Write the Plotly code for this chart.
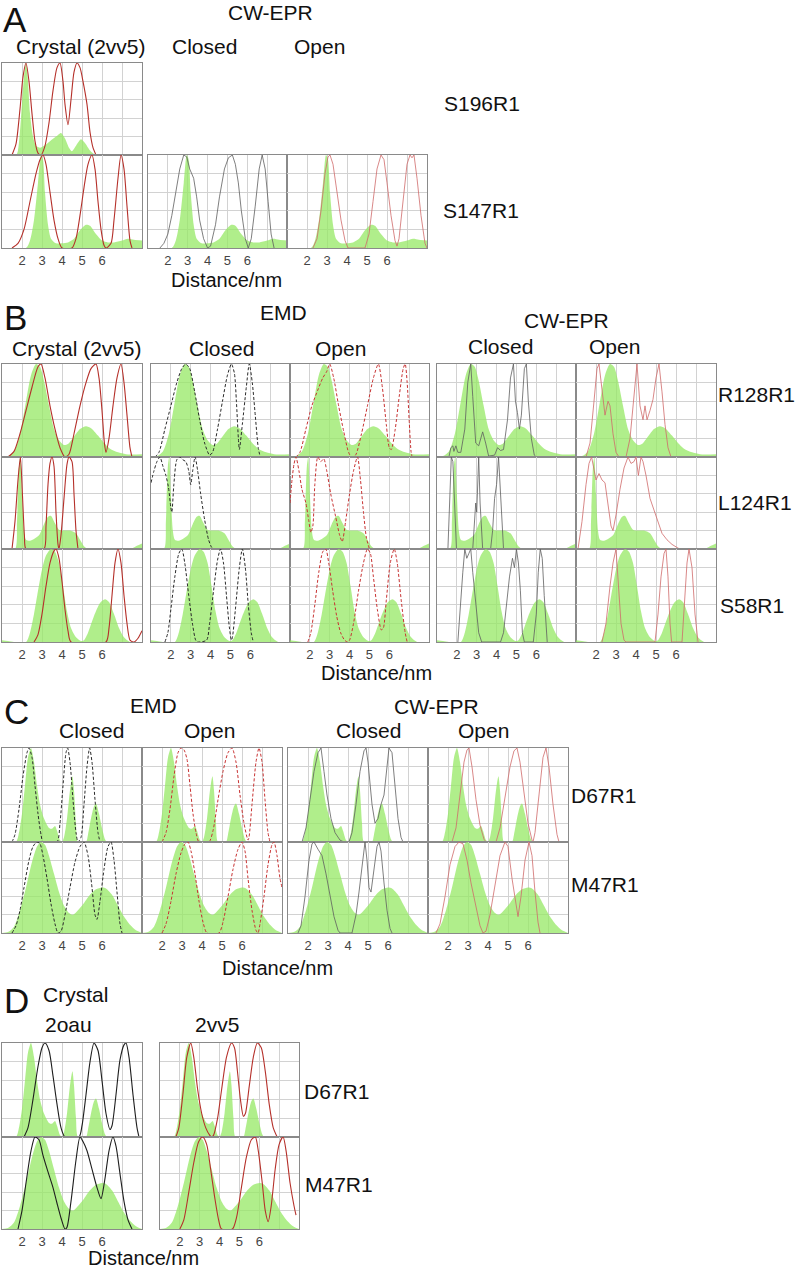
import plotly.graph_objects as go

W, H = 796, 1270

# ---------------- experimental distance distributions (green), (nm, amplitude) ----------------
EXP_S196R1 = [(1.0,0),(1.7,0),(1.8,0.05),(1.95,0.4),(2.1,0.85),(2.2,1.0),(2.3,0.8),(2.4,0.45),(2.55,0.2),
              (2.7,0.1),(2.9,0.08),(3.1,0.1),(3.4,0.15),(3.7,0.2),(3.95,0.24),(4.15,0.18),(4.35,0.08),
              (4.5,0.04),(4.7,0.1),(4.95,0.17),(5.15,0.13),(5.4,0.05),(5.7,0),(8.0,0)]
EXP_S147R1 = [(1.0,0),(2.2,0),(2.4,0.08),(2.6,0.3),(2.8,0.7),(2.95,1.0),(3.05,0.95),(3.15,0.6),(3.3,0.25),
              (3.45,0.1),(3.7,0.05),(4.0,0.05),(4.3,0.06),(4.6,0.1),(4.9,0.19),(5.2,0.25),(5.4,0.24),
              (5.7,0.15),(6.0,0.08),(6.3,0.06),(6.6,0.06),(7.0,0.08),(7.3,0.1),(7.6,0.09),(8.0,0.08)]
EXP_R128R1 = [(1.0,0),(1.3,0.01),(1.6,0.06),(1.9,0.25),(2.2,0.6),(2.45,0.88),(2.7,1.0),(2.9,0.97),(3.1,0.82),
              (3.35,0.55),(3.6,0.3),(3.85,0.18),(4.1,0.13),(4.3,0.14),(4.6,0.22),(4.9,0.3),(5.2,0.33),
              (5.45,0.31),(5.8,0.23),(6.1,0.15),(6.4,0.09),(6.8,0.05),(7.2,0.03),(8.0,0.03)]
EXP_L124R1 = [(1.0,0),(1.65,0),(1.75,0.3),(1.85,0.9),(1.92,1.0),(2.0,0.6),(2.1,0.2),(2.2,0.1),(2.4,0.09),
              (2.6,0.11),(2.85,0.15),(3.1,0.27),(3.3,0.35),(3.45,0.36),(3.65,0.28),(3.85,0.21),(4.1,0.2),
              (4.4,0.2),(4.7,0.17),(4.9,0.1),(5.1,0.03),(5.3,0),(7.4,0),(7.7,0.03),(8.0,0.06)]
EXP_S58R1 = [(1.0,0.02),(1.3,0.01),(1.6,0),(2.2,0),(2.4,0.1),(2.6,0.3),(2.8,0.55),(3.0,0.78),(3.2,0.93),
             (3.45,1.0),(3.65,0.97),(3.85,0.85),(4.05,0.6),(4.25,0.33),(4.45,0.15),(4.7,0.05),(4.95,0.01),
             (5.1,0.02),(5.3,0.1),(5.6,0.28),(5.9,0.42),(6.15,0.46),(6.35,0.43),(6.6,0.3),(6.85,0.15),
             (7.1,0.05),(7.4,0),(8.0,0)]
EXP_D67R1 = [(1.0,0),(1.7,0),(1.85,0.1),(2.0,0.3),(2.15,0.6),(2.3,0.9),(2.45,1.0),(2.6,0.85),(2.75,0.6),
             (2.9,0.4),(3.1,0.25),(3.35,0.15),(3.5,0.14),(3.65,0.17),(3.75,0.12),(3.9,0.02),(4.0,0),
             (4.1,0.05),(4.25,0.25),(4.4,0.55),(4.52,0.7),(4.6,0.55),(4.7,0.2),(4.8,0),(5.2,0),(5.3,0.08),
             (5.45,0.25),(5.6,0.38),(5.7,0.41),(5.85,0.3),(6.0,0.15),(6.15,0.03),(6.25,0),(8.0,0)]
EXP_M47R1 = [(1.0,0),(1.3,0.01),(1.6,0.07),(1.9,0.25),(2.2,0.5),(2.5,0.78),(2.75,0.95),(2.95,1.0),(3.15,0.97),
             (3.35,0.85),(3.6,0.65),(3.85,0.45),(4.1,0.3),(4.35,0.22),(4.55,0.2),(4.8,0.25),(5.1,0.33),
             (5.4,0.42),(5.7,0.48),(6.0,0.5),(6.2,0.49),(6.5,0.42),(6.8,0.3),(7.1,0.18),(7.4,0.09),
             (7.7,0.03),(8.0,0)]

# ---------------- simulated distributions, (nm, amplitude) ----------------
A_CRYS_S196R1 = [(1.5,0),(1.7,0.12),(1.9,0.5),(2.05,0.85),(2.2,1.0),(2.35,0.8),(2.5,0.45),(2.65,0.15),(2.8,0.02),
                 (2.95,0),(3.15,0.1),(3.35,0.35),(3.55,0.7),(3.75,0.95),(3.9,1.0),(4.05,0.8),(4.15,0.55),
                 (4.3,0.33),(4.45,0.6),(4.6,0.9),(4.75,1.0),(4.9,0.95),(5.05,0.8),(5.25,0.55),(5.4,0.25),
                 (5.55,0.08),(5.7,0)]
A_CRYS_S147R1 = [(1.5,0),(1.8,0.05),(2.1,0.2),(2.4,0.5),(2.7,0.8),(2.9,0.95),(3.05,1.0),(3.2,0.9),(3.4,0.6),
                 (3.6,0.3),(3.8,0.1),(4.0,0),(4.5,0),(4.7,0.1),(4.9,0.35),(5.1,0.65),(5.3,0.9),(5.5,1.0),
                 (5.65,0.85),(5.8,0.5),(5.95,0.2),(6.1,0.03),(6.2,0),(6.45,0.05),(6.6,0.3),(6.8,0.75),
                 (6.95,1.0),(7.1,0.85),(7.25,0.45),(7.4,0.08),(7.5,0)]
A_CWC_S147R1 = [(1.6,0),(1.8,0.05),(2.0,0.15),(2.2,0.35),(2.4,0.6),(2.6,0.85),(2.8,1.0),(2.95,0.98),(3.1,0.85),
                (3.3,0.75),(3.45,0.55),(3.6,0.3),(3.8,0.1),(4.0,0),(4.15,0.02),(4.4,0.25),(4.6,0.55),
                (4.85,0.85),(5.05,0.97),(5.25,1.0),(5.4,0.9),(5.55,0.7),(5.7,0.4),(5.9,0.1),(6.05,0),
                (6.2,0.1),(6.4,0.45),(6.6,0.85),(6.75,1.0),(6.9,0.85),(7.05,0.5),(7.2,0.15),(7.35,0)]
A_CWO_S147R1 = [(2.3,0),(2.5,0.1),(2.7,0.4),(2.9,0.8),(3.05,0.98),(3.15,1.0),(3.3,0.9),(3.5,0.6),(3.7,0.3),
                (3.9,0.08),(4.05,0),(4.9,0),(5.1,0.15),(5.3,0.5),(5.5,0.85),(5.7,1.0),(5.85,0.95),(6.0,0.7),
                (6.2,0.35),(6.4,0.08),(6.5,0.02),(6.6,0.1),(6.8,0.5),(7.0,0.9),(7.15,1.0),(7.25,0.97),
                (7.35,1.0),(7.5,0.75),(7.7,0.35),(7.9,0.05),(8.0,0)]

B_CRYS_R128R1 = [(1.3,0),(1.6,0.06),(1.9,0.25),(2.2,0.5),(2.5,0.75),(2.8,0.97),(2.95,1.0),(3.15,0.85),(3.4,0.55),
                 (3.65,0.3),(3.9,0.1),(4.15,0),(4.35,0.03),(4.6,0.25),(4.9,0.55),(5.2,0.8),(5.45,0.95),
                 (5.7,1.0),(5.85,0.85),(6.0,0.5),(6.12,0.15),(6.2,0.05),(6.35,0.2),(6.55,0.55),(6.75,0.85),
                 (6.95,1.0),(7.1,0.8),(7.25,0.45),(7.4,0.1),(7.5,0)]
B_EMDC_R128R1 = [(1.2,0),(1.4,0.05),(1.7,0.3),(2.0,0.55),(2.3,0.8),(2.55,0.95),(2.75,1.0),(2.95,0.95),(3.2,0.7),
                 (3.45,0.4),(3.7,0.15),(3.95,0.02),(4.1,0.05),(4.35,0.3),(4.6,0.6),(4.85,0.88),(5.05,1.0),
                 (5.2,0.9),(5.3,0.6),(5.4,0.2),(5.45,0.08),(5.6,0.35),(5.8,0.75),(5.95,1.0),(6.1,0.8),
                 (6.25,0.45),(6.4,0.1),(6.5,0)]
B_EMDO_R128R1 = [(1.3,0),(1.5,0.05),(1.8,0.3),(2.1,0.55),(2.4,0.72),(2.65,0.85),(2.85,0.92),(3.0,1.0),(3.2,0.85),
                 (3.45,0.55),(3.7,0.28),(3.95,0.05),(4.1,0),(4.3,0.02),(4.6,0.25),(4.9,0.55),(5.2,0.85),
                 (5.45,1.0),(5.65,0.75),(5.85,0.35),(6.0,0.1),(6.1,0.08),(6.3,0.3),(6.5,0.65),(6.7,0.95),
                 (6.8,1.0),(6.9,0.8),(7.0,0.4),(7.1,0.05),(7.15,0)]
B_CWC_R128R1 = [(1.6,0),(1.7,0.1),(1.8,0.12),(1.85,0.06),(1.95,0.12),(2.05,0.05),(2.2,0.05),(2.4,0.3),(2.55,0.8),
                (2.7,1.0),(2.8,0.65),(2.95,0.15),(3.1,0.12),(3.3,0.27),(3.45,0.15),(3.6,0.01),(3.9,0.02),
                (4.05,0.1),(4.2,0.07),(4.35,0.08),(4.55,0.4),(4.7,0.85),(4.85,1.0),(4.95,0.6),(5.05,0.48),
                (5.15,0.3),(5.25,0.45),(5.4,0.95),(5.5,1.0),(5.6,0.6),(5.75,0.2),(5.9,0.02),(6.0,0)]
B_CWO_R128R1 = [(1.5,0),(1.7,0.15),(1.9,0.6),(2.05,0.95),(2.15,1.0),(2.3,0.75),(2.45,0.45),(2.6,0.6),(2.7,0.55),
                (2.85,0.25),(3.0,0.05),(3.15,0),(3.5,0),(3.7,0.2),(3.9,0.7),(4.05,1.0),(4.2,0.55),(4.35,0.4),
                (4.45,0.55),(4.55,0.4),(4.7,0.5),(4.85,0.62),(5.0,0.85),(5.15,1.0),(5.3,0.7),(5.45,0.35),
                (5.6,0.1),(5.75,0)]

B_CRYS_L124R1 = [(1.5,0),(1.65,0.3),(1.8,0.75),(1.92,1.0),(2.02,0.6),(2.12,0.15),(2.2,0),(3.1,0),(3.2,0.25),
                 (3.3,0.7),(3.4,0.93),(3.5,1.0),(3.6,0.9),(3.7,0.4),(3.8,0.05),(3.85,0),(3.95,0.15),(4.1,0.55),
                 (4.25,0.92),(4.35,1.0),(4.5,0.95),(4.6,0.6),(4.7,0.2),(4.8,0)]
B_EMDC_L124R1 = [(1.0,0.72),(1.15,0.85),(1.3,0.95),(1.45,1.0),(1.6,0.9),(1.75,0.8),(1.88,0.67),(2.0,0.45),
                 (2.05,0.4),(2.15,0.7),(2.3,0.97),(2.45,1.0),(2.6,0.97),(2.75,0.95),(2.9,0.85),(3.0,0.7),
                 (3.1,0.85),(3.22,1.0),(3.35,0.85),(3.5,0.6),(3.7,0.32),(3.9,0.1),(4.05,0.02),(4.15,0)]
B_EMDO_L124R1 = [(1.0,0.5),(1.1,0.75),(1.2,0.92),(1.3,1.0),(1.45,0.85),(1.6,0.65),(1.8,0.5),(1.95,0.3),
                 (2.05,0.18),(2.15,0.25),(2.25,0.7),(2.4,1.0),(2.55,0.95),(2.7,0.98),(2.85,0.85),(3.05,0.6),
                 (3.3,0.35),(3.5,0.15),(3.63,0.08),(3.8,0.3),(4.0,0.6),(4.2,0.85),(4.4,1.0),(4.55,0.75),
                 (4.7,0.4),(4.85,0.12),(5.0,0)]
B_CWC_L124R1 = [(1.55,0),(1.65,0.5),(1.72,1.0),(1.8,0.95),(1.9,0.4),(1.98,0),(2.8,0),(2.9,0.3),(2.95,0.5),
                (3.0,0.4),(3.05,0.8),(3.1,1.0),(3.17,0.5),(3.25,0.1),(3.3,0),(3.7,0),(3.8,0.2),(3.9,0.55),
                (4.0,0.7),(4.1,1.0),(4.2,0.6),(4.3,0.1),(4.35,0)]
B_CWO_L124R1 = [(1.1,0),(1.3,0.3),(1.5,0.7),(1.65,0.93),(1.78,1.0),(1.9,0.85),(2.0,0.75),(2.15,0.82),(2.3,0.75),
                (2.45,0.72),(2.6,0.5),(2.75,0.25),(2.85,0.2),(3.0,0.37),(3.2,0.65),(3.4,0.88),(3.6,1.0),
                (3.75,0.93),(3.9,0.95),(4.0,1.0),(4.12,0.8),(4.25,1.0),(4.35,0.95),(4.5,0.8),(4.7,0.55),
                (4.9,0.42),(5.1,0.3),(5.3,0.17),(5.55,0.1),(5.8,0.05),(6.1,0.01),(6.2,0)]

B_CRYS_S58R1 = [(2.6,0),(2.8,0.08),(3.0,0.3),(3.2,0.6),(3.4,0.85),(3.6,0.98),(3.7,1.0),(3.85,0.9),(4.0,0.65),
                (4.15,0.35),(4.3,0.12),(4.45,0),(6.2,0),(6.35,0.15),(6.5,0.5),(6.65,0.85),(6.8,1.0),
                (6.95,0.85),(7.1,0.5),(7.25,0.2),(7.4,0.02),(7.6,0),(7.8,0.04),(8.0,0.12)]
B_EMDC_S58R1 = [(1.7,0),(1.85,0.1),(2.0,0.35),(2.2,0.7),(2.4,0.95),(2.55,1.0),(2.7,0.85),(2.9,0.5),(3.1,0.18),
                (3.25,0.02),(3.35,0),(3.8,0.02),(3.95,0.2),(4.15,0.55),(4.35,0.88),(4.5,1.0),(4.65,0.85),
                (4.8,0.5),(4.95,0.15),(5.05,0.02),(5.1,0.05),(5.25,0.35),(5.45,0.8),(5.6,1.0),(5.75,0.8),
                (5.9,0.4),(6.05,0.1),(6.15,0)]
B_EMDO_S58R1 = [(1.9,0),(2.05,0.1),(2.25,0.4),(2.45,0.75),(2.65,0.97),(2.8,1.0),(2.95,0.85),(3.15,0.55),
                (3.35,0.28),(3.55,0.1),(3.75,0.02),(3.9,0),(4.0,0.02),(4.2,0.2),(4.45,0.55),(4.7,0.85),
                (4.9,1.0),(5.05,0.95),(5.2,0.7),(5.4,0.35),(5.6,0.13),(5.7,0.15),(5.85,0.45),(6.05,0.85),
                (6.25,1.0),(6.4,0.85),(6.6,0.45),(6.8,0.1),(6.9,0)]
B_CWC_S58R1 = [(2.05,0),(2.15,0.35),(2.3,0.75),(2.4,1.0),(2.5,0.9),(2.6,0.95),(2.7,1.0),(2.8,0.75),(2.95,0.4),
               (3.1,0.1),(3.25,0),(4.2,0),(4.35,0.1),(4.5,0.4),(4.65,0.7),(4.8,0.9),(4.9,0.8),(5.0,1.0),
               (5.1,0.85),(5.2,0.55),(5.3,0.1),(5.4,0),(5.85,0),(6.0,0.3),(6.1,0.75),(6.2,1.0),(6.3,0.9),
               (6.4,0.5),(6.5,0.1),(6.55,0)]
B_CWO_S58R1 = [(2.3,0),(2.5,0.2),(2.7,0.6),(2.85,0.85),(3.0,1.0),(3.1,0.7),(3.25,0.2),(3.4,0.02),(3.5,0),
               (4.95,0),(5.1,0.3),(5.25,0.7),(5.4,0.95),(5.5,1.0),(5.6,0.7),(5.7,0.2),(5.78,0),(6.3,0),
               (6.4,0.4),(6.55,0.85),(6.65,1.0),(6.8,0.8),(6.95,0.3),(7.1,0)]

C_EMDC_D67R1 = [(1.5,0),(1.65,0.08),(1.85,0.35),(2.05,0.7),(2.25,0.95),(2.35,1.0),(2.5,0.9),(2.65,0.6),(2.8,0.3),
                (2.95,0.08),(3.05,0),(3.75,0),(3.9,0.2),(4.05,0.6),(4.2,0.95),(4.28,1.0),(4.4,0.85),(4.55,0.45),
                (4.7,0.1),(4.8,0),(4.95,0.05),(5.1,0.4),(5.25,0.8),(5.38,1.0),(5.5,0.85),(5.65,0.45),(5.8,0.1),
                (5.9,0)]
C_EMDO_D67R1 = [(2.0,0),(2.2,0.1),(2.4,0.35),(2.6,0.7),(2.8,0.95),(2.95,1.0),(3.1,0.98),(3.25,0.88),(3.4,0.6),
                (3.55,0.3),(3.7,0.1),(3.85,0),(4.35,0),(4.55,0.12),(4.8,0.45),(5.05,0.75),(5.3,0.95),(5.5,1.0),
                (5.7,0.85),(5.9,0.5),(6.1,0.2),(6.3,0.02),(6.35,0.05),(6.5,0.4),(6.7,0.85),(6.85,1.0),(7.0,0.85),
                (7.15,0.45),(7.3,0.1),(7.4,0)]
C_CWC_D67R1 = [(1.7,0),(1.9,0.15),(2.1,0.45),(2.3,0.75),(2.5,0.95),(2.65,1.0),(2.8,0.75),(2.95,0.5),(3.15,0.25),
               (3.35,0.1),(3.6,0.02),(3.8,0),(4.05,0),(4.2,0.1),(4.4,0.4),(4.6,0.75),(4.8,0.97),(4.9,1.0),
               (5.0,0.85),(5.1,0.65),(5.2,0.4),(5.35,0.2),(5.5,0.25),(5.65,0.4),(5.8,0.5),(5.95,0.8),(6.05,1.0),
               (6.2,0.95),(6.35,0.6),(6.5,0.25),(6.65,0.05),(6.75,0)]
C_CWO_D67R1 = [(2.2,0),(2.4,0.15),(2.6,0.5),(2.8,0.85),(2.95,0.98),(3.05,1.0),(3.2,0.8),(3.4,0.45),(3.6,0.18),
               (3.8,0.03),(3.9,0),(4.4,0),(4.6,0.15),(4.85,0.5),(5.1,0.8),(5.3,0.97),(5.45,1.0),(5.6,0.85),
               (5.8,0.5),(6.0,0.2),(6.2,0.02),(6.25,0),(6.35,0.1),(6.55,0.5),(6.75,0.9),(6.9,1.0),(7.05,0.8),
               (7.25,0.4),(7.45,0.08),(7.55,0)]

C_EMDC_M47R1 = [(1.5,0),(1.7,0.08),(1.9,0.25),(2.1,0.5),(2.35,0.8),(2.55,0.95),(2.75,1.0),(2.9,0.98),(3.05,0.85),
                (3.25,0.6),(3.45,0.32),(3.65,0.1),(3.8,0),(3.95,0.02),(4.15,0.2),(4.4,0.5),(4.65,0.78),(4.9,0.95),
                (5.1,1.0),(5.3,0.85),(5.5,0.5),(5.65,0.2),(5.75,0.15),(5.9,0.35),(6.1,0.7),(6.3,0.95),(6.45,1.0),
                (6.6,0.8),(6.75,0.45),(6.9,0.1),(7.0,0)]
C_EMDO_M47R1 = [(2.0,0),(2.2,0.1),(2.45,0.35),(2.7,0.65),(2.95,0.88),(3.15,0.98),(3.3,1.0),(3.45,0.9),(3.65,0.65),
                (3.85,0.35),(4.05,0.12),(4.25,0),(4.85,0),(5.05,0.12),(5.3,0.4),(5.55,0.7),(5.8,0.92),(6.0,1.0),
                (6.15,0.9),(6.3,0.6),(6.5,0.25),(6.7,0.03),(6.8,0),(6.9,0.1),(7.1,0.4),(7.3,0.75),(7.5,0.97),
                (7.6,1.0),(7.75,0.85),(7.9,0.6),(8.0,0.5)]
C_CWC_M47R1 = [(1.5,0),(1.65,0.08),(1.85,0.4),(2.05,0.8),(2.2,0.98),(2.3,1.0),(2.5,0.92),(2.7,0.85),(2.9,0.65),
               (3.1,0.4),(3.3,0.18),(3.5,0.03),(3.6,0),(4.2,0),(4.4,0.2),(4.55,0.45),(4.7,0.75),(4.85,1.0),
               (4.95,0.8),(5.05,0.5),(5.15,0.45),(5.3,0.7),(5.45,0.95),(5.55,1.0),(5.65,0.9),(5.8,0.55),
               (5.95,0.25),(6.1,0.05),(6.2,0)]
C_CWO_M47R1 = [(1.4,0),(1.6,0.1),(1.85,0.4),(2.1,0.75),(2.35,0.95),(2.55,1.0),(2.75,0.98),(2.95,0.8),(3.15,0.55),
               (3.4,0.28),(3.6,0.08),(3.75,0),(3.9,0.02),(4.1,0.2),(4.35,0.55),(4.6,0.85),(4.85,1.0),(5.0,0.95),
               (5.2,0.6),(5.4,0.3),(5.5,0.18),(5.65,0.4),(5.85,0.8),(6.05,1.0),(6.2,0.85),(6.35,0.45),
               (6.5,0.12),(6.6,0)]

D_2OAU_D67R1 = [(2.1,0),(2.3,0.1),(2.55,0.4),(2.8,0.75),(3.0,0.95),(3.15,1.0),(3.35,0.92),(3.55,0.65),(3.75,0.35),
                (3.95,0.1),(4.15,0),(4.85,0),(5.0,0.12),(5.2,0.45),(5.4,0.8),(5.6,1.0),(5.8,0.92),(6.0,0.6),
                (6.2,0.25),(6.4,0.08),(6.5,0.12),(6.7,0.45),(6.9,0.82),(7.1,0.98),(7.2,1.0),(7.35,0.85),
                (7.55,0.45),(7.75,0.1),(7.85,0)]
D_2VV5_D67R1 = [(1.8,0),(1.95,0.1),(2.15,0.45),(2.35,0.85),(2.55,1.0),(2.7,0.85),(2.9,0.5),(3.1,0.25),(3.3,0.1),
                (3.5,0.02),(3.6,0),(3.7,0.02),(3.9,0.2),(4.1,0.5),(4.35,0.85),(4.6,1.0),(4.75,0.95),(4.9,0.7),
                (5.05,0.4),(5.2,0.22),(5.3,0.25),(5.5,0.55),(5.7,0.85),(5.9,1.0),(6.1,0.95),(6.3,0.7),
                (6.5,0.35),(6.7,0.1),(6.9,0)]
D_2OAU_M47R1 = [(1.8,0),(2.0,0.2),(2.2,0.5),(2.45,0.85),(2.65,1.0),(2.85,0.97),(3.05,0.8),(3.3,0.62),(3.55,0.45),
                (3.75,0.28),(3.95,0.12),(4.15,0),(4.25,0.02),(4.45,0.3),(4.7,0.75),(4.9,1.0),(5.05,0.95),
                (5.25,0.85),(5.5,0.65),(5.75,0.45),(5.95,0.33),(6.15,0.55),(6.35,0.85),(6.55,1.0),(6.7,0.9),
                (6.9,0.6),(7.1,0.3),(7.3,0.1),(7.5,0)]
D_2VV5_M47R1 = [(2.0,0),(2.2,0.1),(2.45,0.4),(2.7,0.72),(2.95,0.95),(3.15,1.0),(3.35,0.92),(3.55,0.65),(3.75,0.35),
                (3.95,0.1),(4.1,0),(4.65,0),(4.85,0.12),(5.1,0.45),(5.35,0.78),(5.6,0.97),(5.8,1.0),(5.95,0.85),
                (6.15,0.5),(6.3,0.2),(6.45,0.08),(6.6,0.25),(6.8,0.65),(7.0,0.92),(7.2,1.0),(7.35,0.85),
                (7.55,0.5),(7.75,0.25),(7.85,0.15)]

# axis ticks
TICK_VALS = [2, 3, 4, 5, 6, 7]
TICK_TEXT = ["2", "3", "4", "5", "6", ""]

# ---------------- styles ----------------
GREEN = "rgba(150,232,100,0.75)"
STY = {
    "crys_red": dict(color="#b5302a", width=1.1, dash="solid", shape="spline"),
    "crys_black": dict(color="#1e1e1e", width=1.1, dash="solid", shape="spline"),
    "emd_closed": dict(color="#2a2a2a", width=1.0, dash="3px,2px", shape="spline"),
    "emd_open": dict(color="#c83232", width=1.0, dash="3px,2px", shape="spline"),
    "cw_closed": dict(color="#5e5e5e", width=0.8, dash="solid", shape="linear"),
    "cw_open": dict(color="#cf6a6a", width=0.8, dash="solid", shape="linear"),
}

# ---------------- panel layout (pixel boxes) ----------------
panels = []
# A
panels.append(((2, 142, 63, 155), EXP_S196R1, A_CRYS_S196R1, "crys_red", False))
panels.append(((2, 142, 155, 248), EXP_S147R1, A_CRYS_S147R1, "crys_red", True))
panels.append(((148, 287, 155, 248), EXP_S147R1, A_CWC_S147R1, "cw_closed", True))
panels.append(((287, 427, 155, 248), EXP_S147R1, A_CWO_S147R1, "cw_open", True))
# B
b_cols = [(2, 142), (151, 290), (290, 429), (437, 576), (576, 716)]
b_rows = [(364, 457), (457, 549), (549, 642)]
b_styles = ["crys_red", "emd_closed", "emd_open", "cw_closed", "cw_open"]
b_data = [
    (EXP_R128R1, [B_CRYS_R128R1, B_EMDC_R128R1, B_EMDO_R128R1, B_CWC_R128R1, B_CWO_R128R1]),
    (EXP_L124R1, [B_CRYS_L124R1, B_EMDC_L124R1, B_EMDO_L124R1, B_CWC_L124R1, B_CWO_L124R1]),
    (EXP_S58R1, [B_CRYS_S58R1, B_EMDC_S58R1, B_EMDO_S58R1, B_CWC_S58R1, B_CWO_S58R1]),
]
for ri, (ry0, ry1) in enumerate(b_rows):
    exp, sims = b_data[ri]
    for ci, (cx0, cx1) in enumerate(b_cols):
        panels.append(((cx0, cx1, ry0, ry1), exp, sims[ci], b_styles[ci], ri == 2))
# C
c_cols = [(2, 142), (142, 282), (288, 428), (428, 568)]
c_rows = [(748, 842), (842, 933)]
c_styles = ["emd_closed", "emd_open", "cw_closed", "cw_open"]
c_data = [
    (EXP_D67R1, [C_EMDC_D67R1, C_EMDO_D67R1, C_CWC_D67R1, C_CWO_D67R1]),
    (EXP_M47R1, [C_EMDC_M47R1, C_EMDO_M47R1, C_CWC_M47R1, C_CWO_M47R1]),
]
for ri, (ry0, ry1) in enumerate(c_rows):
    exp, sims = c_data[ri]
    for ci, (cx0, cx1) in enumerate(c_cols):
        panels.append(((cx0, cx1, ry0, ry1), exp, sims[ci], c_styles[ci], ri == 1))
# D
d_cols = [(2, 142), (160, 299)]
d_rows = [(1043, 1137), (1137, 1229)]
d_styles = ["crys_black", "crys_red"]
d_data = [
    (EXP_D67R1, [D_2OAU_D67R1, D_2VV5_D67R1]),
    (EXP_M47R1, [D_2OAU_M47R1, D_2VV5_M47R1]),
]
for ri, (ry0, ry1) in enumerate(d_rows):
    exp, sims = d_data[ri]
    for ci, (cx0, cx1) in enumerate(d_cols):
        panels.append(((cx0, cx1, ry0, ry1), exp, sims[ci], d_styles[ci], ri == 1))

fig = go.Figure()
layout = {}
for i, (box, exp, sim, sty, ticks) in enumerate(panels):
    n = i + 1
    x0, x1, y0, y1 = box
    xa = "x" if n == 1 else f"x{n}"
    ya = "y" if n == 1 else f"y{n}"
    layout["xaxis" if n == 1 else f"xaxis{n}"] = dict(
        domain=[x0 / W, x1 / W], range=[1, 8], anchor=ya,
        tickvals=TICK_VALS, ticktext=TICK_TEXT, showticklabels=ticks,
        tickfont=dict(family="Liberation Sans, Arial", size=13, color="#444444"),
        ticks="", showgrid=True, gridcolor="#d2d2d2", gridwidth=1,
        showline=True, mirror=True, linecolor="#8a8a8a", linewidth=1,
        zeroline=False, fixedrange=True)
    layout["yaxis" if n == 1 else f"yaxis{n}"] = dict(
        domain=[1 - y1 / H, 1 - y0 / H], range=[0, 1], anchor=xa,
        tickvals=[0.2, 0.4, 0.6, 0.8], showticklabels=False, ticks="",
        showgrid=True, gridcolor="#d2d2d2", gridwidth=1,
        showline=True, mirror=True, linecolor="#8a8a8a", linewidth=1,
        zeroline=False, fixedrange=True)
    ex, ey = zip(*exp)
    fig.add_trace(go.Scatter(x=list(ex), y=list(ey), xaxis=xa, yaxis=ya, mode="lines",
                             fill="tozeroy", fillcolor=GREEN,
                             line=dict(width=0, shape="spline", smoothing=0.7, color=GREEN),
                             hoverinfo="skip", showlegend=False))
    s = STY[sty]
    sx, sy = zip(*sim)
    line = dict(color=s["color"], width=s["width"], dash=s["dash"], shape=s["shape"])
    if s["shape"] == "spline":
        line["smoothing"] = 0.7
    fig.add_trace(go.Scatter(x=list(sx), y=list(sy), xaxis=xa, yaxis=ya, mode="lines",
                             line=line, hoverinfo="skip", showlegend=False))

# ---------------- text ----------------
FONT = "Liberation Sans, Arial, sans-serif"
texts = [
    # (text, x px, y px, size, xanchor)
    ("A", 1, 20, 35, "left"),
    ("CW-EPR", 270, 12, 21, "center"),
    ("Crystal (2vv5)", 81, 47, 21, "center"),
    ("Closed", 204, 47, 21, "center"),
    ("Open", 319, 47, 21, "center"),
    ("S196R1", 442, 104, 21, "left"),
    ("S147R1", 441, 210, 21, "left"),
    ("Distance/nm", 226, 280, 20, "center"),

    ("B", 2, 318, 35, "left"),
    ("EMD", 283, 313, 21, "center"),
    ("CW-EPR", 566, 320, 21, "center"),
    ("Crystal (2vv5)", 77, 348, 21, "center"),
    ("Closed", 221, 348, 21, "center"),
    ("Open", 340, 348, 21, "center"),
    ("Closed", 500, 346, 21, "center"),
    ("Open", 614, 346, 21, "center"),
    ("R128R1", 716, 394, 21, "left"),
    ("L124R1", 716, 503, 21, "left"),
    ("S58R1", 718, 606, 21, "left"),
    ("Distance/nm", 376, 673, 20, "center"),

    ("C", 2, 711, 35, "left"),
    ("EMD", 153, 705, 21, "center"),
    ("Closed", 91, 730, 21, "center"),
    ("Open", 209, 730, 21, "center"),
    ("CW-EPR", 436, 706, 21, "center"),
    ("Closed", 368, 730, 21, "center"),
    ("Open", 483, 730, 21, "center"),
    ("D67R1", 569, 795, 21, "left"),
    ("M47R1", 569, 884, 21, "left"),
    ("Distance/nm", 277, 968, 20, "center"),

    ("D", 2, 1001, 35, "left"),
    ("Crystal", 75, 994, 21, "center"),
    ("2oau", 68, 1024, 21, "center"),
    ("2vv5", 217, 1024, 21, "center"),
    ("D67R1", 302, 1091, 21, "left"),
    ("M47R1", 303, 1184, 21, "left"),
    ("Distance/nm", 143, 1258, 20, "center"),
]
annotations = []
for t, px, py, sz, anc in texts:
    annotations.append(dict(text=t, x=px / W, y=1 - py / H, xref="paper", yref="paper",
                            xanchor=anc, yanchor="middle", showarrow=False,
                            font=dict(family=FONT, size=sz, color="#111111")))

fig.update_layout(width=W, height=H, margin=dict(l=0, r=0, t=0, b=0),
                  paper_bgcolor="white", plot_bgcolor="white",
                  annotations=annotations, **layout)

fig.write_html("out.html", config={"displayModeBar": False},
               post_script="document.body.style.margin='0';document.body.style.padding='0';"
                           "document.body.style.overflow='hidden';")
